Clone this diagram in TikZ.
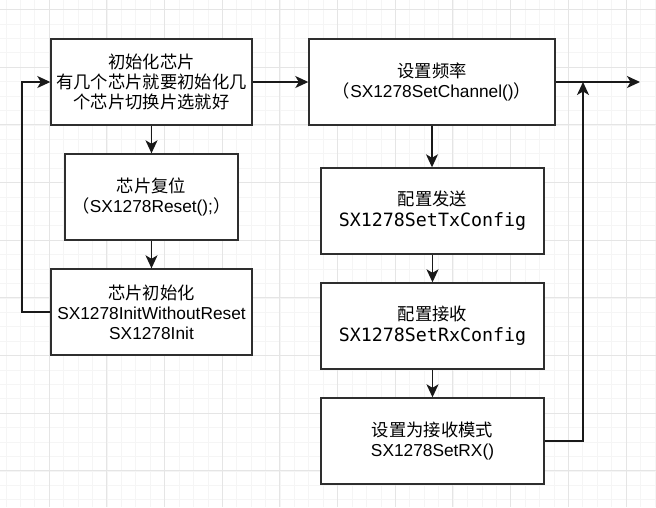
\documentclass[tikz,border=0pt]{standalone}
\usepackage{fontspec}
\setmainfont{Liberation Sans}
\newfontfamily\cjk{Noto Sans CJK SC}
\newfontfamily\monof{DejaVu Sans Mono}
\usetikzlibrary{arrows.meta}
\tikzset{
  gridminor/.style={draw=black!4, line width=0.8pt},
  gridmajor/.style={draw=black!10, line width=1pt},
  box/.style={draw=black!82, line width=1.4pt, fill=white, align=center, inner sep=0pt,
    minimum height=86pt, font=\fontsize{17.3}{19.9}\selectfont},
  arr/.style={-{Stealth[length=13pt,width=12pt,inset=3.5pt]}, line width=1.4pt, draw=black!90}
}
\newcommand{\mytt}[1]{{\monof\fontsize{18.3}{22}\selectfont #1}}
\begin{document}
\begin{tikzpicture}[x=1pt,y=-1pt]
\useasboundingbox (0,0) rectangle (656,507);
\fill[white] (0,0) rectangle (656,507);
% grid
\foreach \i in {0,...,45} { \draw[gridminor] ({6.04+14.42*\i},0) -- ({6.04+14.42*\i},507); }
\foreach \j in {0,...,34} { \draw[gridminor] (0,{9.54+14.42*\j}) -- (656,{9.54+14.42*\j}); }
\foreach \i in {0,...,10} { \draw[gridmajor] ({49.3+57.67*\i},0) -- ({49.3+57.67*\i},507); }
\foreach \j in {0,...,8} { \draw[gridmajor] (0,{9.6+57.67*\j}) -- (656,{9.6+57.67*\j}); }

% nodes
\node[box, minimum width=201pt] (A) at (151.5,82)
  {{\cjk 初始化芯片}\\{\cjk 有几个芯片就要初始化几}\\{\cjk 个芯片切换片选就好}};
\node[box, minimum width=173pt] (B) at (151.5,197)
  {{\cjk 芯片复位}\\{\cjk （}SX1278Reset();{\cjk ）}};
\node[box, minimum width=201pt] (C) at (151.5,312)
  {{\cjk 芯片初始化}\\SX1278InitWithoutReset\\SX1278Init};
\node[box, minimum width=246pt] (D) at (432,82)
  {{\cjk 设置频率}\\{\cjk （}SX1278SetChannel(){\cjk ）}};
\node[box, minimum width=223pt] (E) at (432.5,211)
  {{\cjk 配置发送}\\[1pt]\mytt{SX1278SetTxConfig}};
\node[box, minimum width=223pt] (F) at (432.5,326)
  {{\cjk 配置接收}\\[1pt]\mytt{SX1278SetRxConfig}};
\node[box, minimum width=223pt] (G) at (432.5,441)
  {{\cjk 设置为接收模式}\\SX1278SetRX()};

\coordinate (out) at (640,82);
\coordinate (rx) at (583,82);
\coordinate (lx) at (22,82);

% connectors
\draw[arr] (A.south) -- (B.north);
\draw[arr] (B.south) -- (C.north);
\draw[arr] (A.east) -- (D.west);
\draw[arr] (D.south) -- (D.south |- E.north);
\draw[arr] (E.south) -- (F.north);
\draw[arr] (F.south) -- (G.north);
\draw[arr] (D.east) -- (out);
\draw[arr] (G.east) -| (rx);
\draw[arr] (C.west) -| (lx) -- (A.west);
\end{tikzpicture}
\end{document}
